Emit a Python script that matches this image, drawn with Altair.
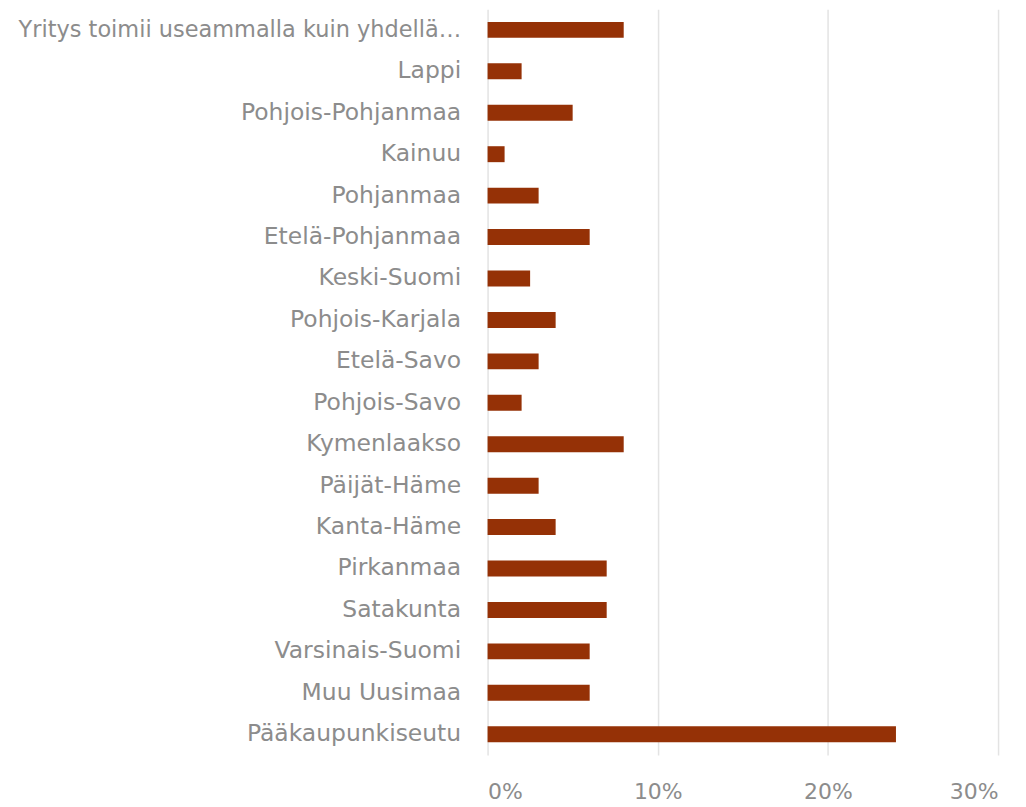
import altair as alt
import pandas as pd

regions = [
    "Yritys toimii useammalla kuin yhdellä…",
    "Lappi",
    "Pohjois-Pohjanmaa",
    "Kainuu",
    "Pohjanmaa",
    "Etelä-Pohjanmaa",
    "Keski-Suomi",
    "Pohjois-Karjala",
    "Etelä-Savo",
    "Pohjois-Savo",
    "Kymenlaakso",
    "Päijät-Häme",
    "Kanta-Häme",
    "Pirkanmaa",
    "Satakunta",
    "Varsinais-Suomi",
    "Muu Uusimaa",
    "Pääkaupunkiseutu",
]
shares = [0.08, 0.02, 0.05, 0.01, 0.03, 0.06, 0.025, 0.04, 0.03, 0.02,
          0.08, 0.03, 0.04, 0.07, 0.07, 0.06, 0.06, 0.24]

df = pd.DataFrame({"region": regions, "share": shares})

FONT = "DejaVu Sans"
GREY = "#8c8c8c"

chart = (
    alt.Chart(df)
    .mark_bar(color="#953106", height=16)
    .encode(
        y=alt.Y("region:N", sort=regions, title=None,
                axis=alt.Axis(labelFontSize={"condition": {"test": "length(datum.label) > 30", "value": 22.5},
                                             "value": 23.5},
                              labelColor=GREY, labelFont=FONT,
                              labelFontWeight="normal",
                              labelPadding=27, ticks=False, domain=False,
                              labelLimit=600)),
        x=alt.X("share:Q", title=None,
                scale=alt.Scale(domain=[0, 0.3], nice=False),
                axis=alt.Axis(values=[0, 0.1, 0.2, 0.3], format=".0%",
                              labelFontSize=22, labelColor=GREY, labelFont=FONT,
                              labelFontWeight="normal",
                              labelPadding=27, ticks=False, domain=False,
                              grid=True, gridColor="#e3e3e3", gridWidth=1.5)),
    )
    .properties(width=512, height=748)
    .properties(autosize=alt.AutoSizeParams(type="none"),
                padding={"left": 481, "top": 0, "right": 20, "bottom": 50})
    .configure_view(stroke=None)
)

chart.save("out.html", embed_options={"renderer": "svg", "actions": False})
